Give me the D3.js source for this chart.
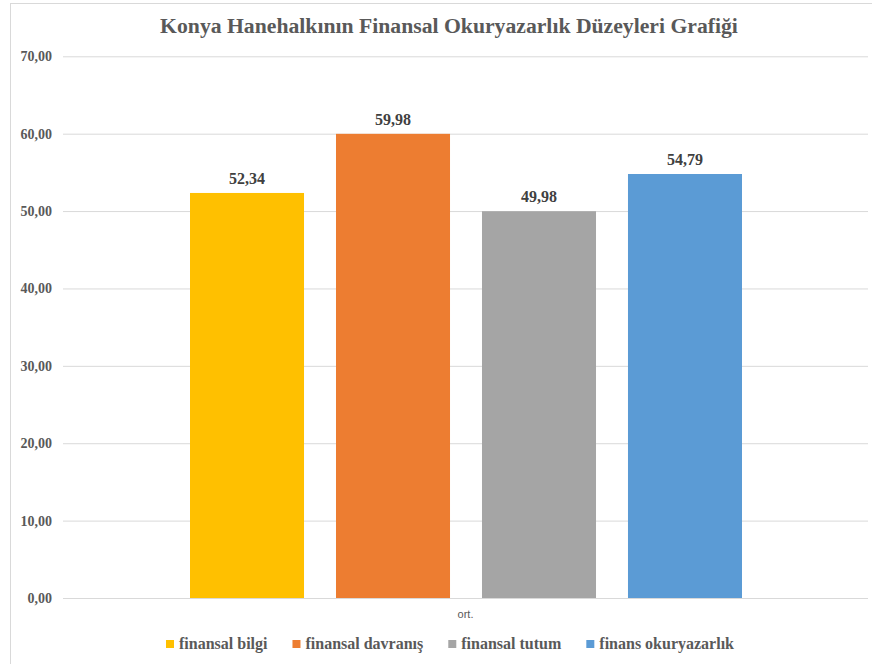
<!DOCTYPE html>
<html>
<head>
<meta charset="utf-8">
<script src="https://cdn.jsdelivr.net/npm/d3@7"></script>
<style>
  body { margin: 0; background: #fff; }
  svg { display: block; }
</style>
</head>
<body>
<svg width="872" height="664"></svg>
<script>
'use strict';

// chart data
var series = ["finansal bilgi", "finansal davranış", "finansal tutum", "finans okuryazarlık"];
var values = [52.34, 59.98, 49.98, 54.79];
var colors = ["#FFC000", "#ED7D31", "#A5A5A5", "#5B9BD5"];
var category = "ort.";
var yTicks = [0, 10, 20, 30, 40, 50, 60, 70];
var title = "Konya Hanehalkının Finansal Okuryazarlık Düzeyleri Grafiği";

var svg = d3.select("svg");
var serif = "'Liberation Serif', 'Times New Roman', serif";

// chart border (only left and top edges are in view)
svg.append("rect")
    .attr("x", 10.5)
    .attr("y", 3.5)
    .attr("width", 900)
    .attr("height", 700)
    .attr("fill", "#fff")
    .attr("stroke", "#d9d9d9");

var plotLeft = 63, plotRight = 868;

var y = d3.scaleLinear()
    .domain([0, 70])
    .range([598, 56.3]);

var x = d3.scaleBand()
    .domain(series)
    .range([190, 742])
    .paddingInner(0.219)
    .paddingOuter(0);

// title
svg.append("text")
    .attr("x", 449)
    .attr("y", 33)
    .attr("text-anchor", "middle")
    .style("font-family", serif)
    .style("font-weight", "bold")
    .style("font-size", "21.7px")
    .attr("fill", "#595959")
    .text(title);

// gridlines + y labels
var yAxis = d3.axisLeft(y)
    .tickValues(yTicks)
    .tickSize(-(plotRight - plotLeft))
    .tickPadding(11)
    .tickFormat(function(d) { return d3.format(".2f")(d).replace(".", ","); });

var ga = svg.append("g")
    .attr("transform", "translate(" + plotLeft + ",0)")
    .call(yAxis);

ga.select(".domain").remove();
ga.selectAll("line").attr("stroke", "#d9d9d9");
ga.selectAll("text")
    .style("font-family", serif)
    .style("font-weight", "bold")
    .style("font-size", "14px")
    .attr("fill", "#595959");

// bars
svg.selectAll(".bar")
  .data(values)
  .enter().append("rect")
    .attr("class", "bar")
    .attr("x", function(d, i) { return x(series[i]); })
    .attr("y", function(d) { return y(d); })
    .attr("width", x.bandwidth())
    .attr("height", function(d) { return y(0) - y(d); })
    .attr("fill", function(d, i) { return colors[i]; });

// data labels
svg.selectAll(".lbl")
  .data(values)
  .enter().append("text")
    .attr("class", "lbl")
    .attr("x", function(d, i) { return x(series[i]) + x.bandwidth() / 2; })
    .attr("y", function(d) { return y(d) - 9; })
    .attr("text-anchor", "middle")
    .style("font-family", serif)
    .style("font-weight", "bold")
    .style("font-size", "16px")
    .attr("fill", "#404040")
    .text(function(d) { return d3.format(".2f")(d).replace(".", ","); });

// category label
svg.append("text")
    .attr("x", (plotLeft + plotRight) / 2)
    .attr("y", 618)
    .attr("text-anchor", "middle")
    .style("font-family", "'Liberation Sans', Arial, sans-serif")
    .style("font-size", "11px")
    .attr("fill", "#595959")
    .text(category);

// legend
var legend = svg.append("g").attr("class", "legend");
var items = legend.selectAll("g")
  .data(series)
  .enter().append("g");

items.append("rect")
    .attr("width", 8)
    .attr("height", 8)
    .attr("y", 640)
    .attr("fill", function(d, i) { return colors[i]; });

items.append("text")
    .attr("x", 13)
    .attr("y", 649)
    .style("font-family", serif)
    .style("font-weight", "bold")
    .style("font-size", "16px")
    .attr("fill", "#595959")
    .text(function(d) { return d; });

var widths = [];
items.selectAll("text").each(function() { widths.push(13 + this.getComputedTextLength()); });
var gap = 25;
var total = d3.sum(widths) + gap * (widths.length - 1);
var cx = 450 - total / 2;
items.attr("transform", function(d, i) {
  var off = cx + d3.sum(widths.slice(0, i)) + gap * i;
  return "translate(" + off + ",0)";
});
</script>
</body>
</html>
